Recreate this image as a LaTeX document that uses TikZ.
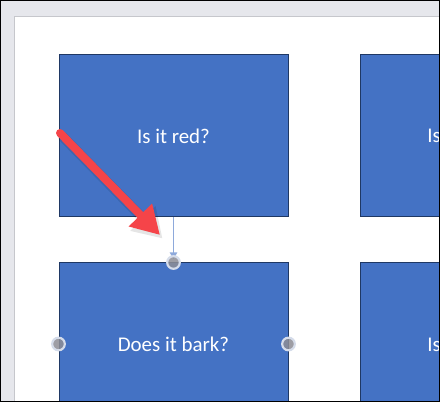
\documentclass[tikz,border=0pt]{standalone}
\usepackage{fontspec}
\setmainfont{Carlito}
\usetikzlibrary{arrows.meta}
\definecolor{boxblue}{HTML}{4472C4}
\definecolor{boxedge}{HTML}{1F3864}
\definecolor{framegray}{HTML}{E6E7EC}
\definecolor{frameline}{HTML}{C6C7CC}
\definecolor{arrowred}{HTML}{F54449}
\definecolor{connblue}{HTML}{8EA9DB}
\definecolor{handlefill}{HTML}{8E8E96}
\definecolor{handleedge}{HTML}{D5DCEA}
\tikzset{
  qbox/.style={draw=boxedge, line width=0.75pt, fill=boxblue, minimum width=171.75pt,
    minimum height=121.5pt, inner sep=0pt, text=white, font=\fontsize{15.7}{18}\selectfont},
  qtext/.style={text=white, font=\fontsize{15.7}{18}\selectfont, inner sep=0pt, anchor=base west},
  handle/.style={circle, fill=handlefill, draw=handleedge, line width=1.6pt, minimum size=9.5pt,
    inner sep=0pt, fill opacity=0.85},
  conn/.style={draw=connblue, line width=0.8pt, shorten >=2.5pt, -{Triangle[length=5pt,width=5.5pt]}},
  redarrow/.style={draw=arrowred, fill=arrowred, line width=6pt, line cap=round,
    -{Triangle[length=21pt,width=23pt]}},
  redshadow/.style={draw=black, fill=black, opacity=0.1, line width=7.5pt, line cap=round,
    -{Triangle[length=21pt,width=25pt]}}
}
\begin{document}
\begin{tikzpicture}[x=0.75pt,y=-0.75pt]
\useasboundingbox (0,0) rectangle (440,402);
\clip (0,0) rectangle (440,402);
% window frame
\fill[framegray] (0,0) rectangle (440,402);
\fill[white] (15,17) rectangle (440,402);
\draw[frameline, line width=0.75pt] (14.5,402) -- (14.5,16.5) -- (440,16.5);
% boxes
\node[qbox] (b1) at (173.5,136) {Is it red?};
\node[qbox] (b2) at (474.5,136) {};
\node[qbox] (b3) at (173.5,344) {Does it bark?};
\node[qbox] (b4) at (474.5,344) {};
\node[qtext] (t2) at (427.2,142.8) {Is};
\node[qtext] (t4) at (427.2,351.8) {Is};
% connector
\draw[conn] (b1.south) -- (b3.north);
\node[handle] (h1) at (b3.north) {};
\node[handle] (h2) at (b3.west) {};
\node[handle] (h3) at (b3.east) {};
% red arrow
\coordinate (rs) at (60,133);
\coordinate (re) at (160,235);
\coordinate (rss) at (62.5,136.5);
\coordinate (res) at (162.5,238.5);
\draw[redshadow] (rss) -- (res);
\draw[redarrow] (rs) -- (re);
% outer border
\draw[black, line width=1.5pt] (0,0) rectangle (440,402);
\end{tikzpicture}
\end{document}
